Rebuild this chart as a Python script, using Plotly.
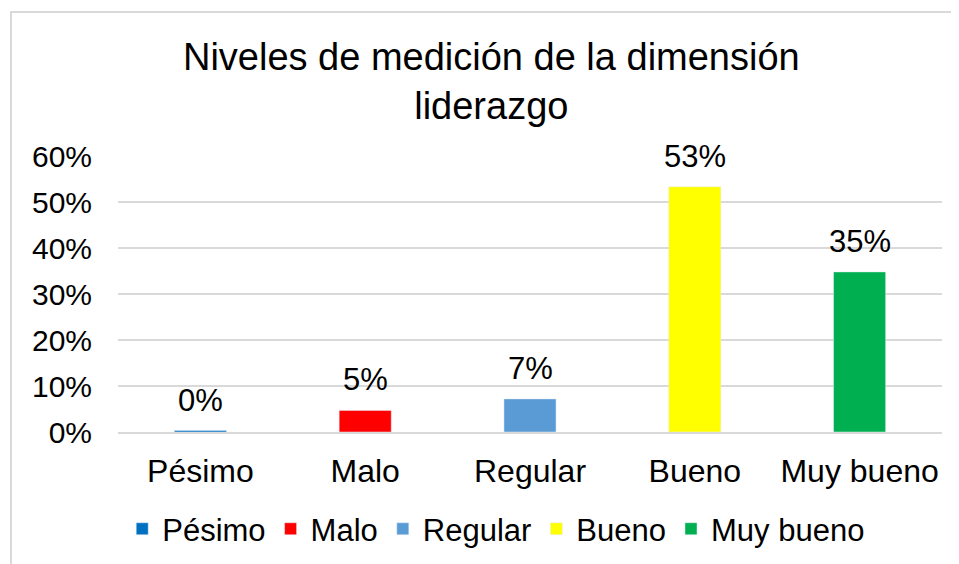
import plotly.graph_objects as go

categories = ["Pésimo", "Malo", "Regular", "Bueno", "Muy bueno"]
values = [0.003, 0.047, 0.072, 0.533, 0.348]
colors = ["#0070C0", "#FF0000", "#5B9BD5", "#FFFF00", "#00B050"]
tick_vals = [0, 0.1, 0.2, 0.3, 0.4, 0.5, 0.6]
tick_text = ["0%", "10%", "20%", "30%", "40%", "50%", "60%"]

FONT = "Liberation Sans, Arial, sans-serif"

fig = go.Figure()
for c, v, col in zip(categories, values, colors):
    fig.add_trace(go.Bar(x=[c], y=[v], name=c, marker_color=col, width=0.316))
    fig.add_annotation(x=c, y=v, xref="x", yref="y", text=f"{round(v*100):.0f}%",
                       showarrow=False, yanchor="bottom", yshift=11,
                       font=dict(size=31, color="black", family=FONT))

PW, PH = 824, 276
fig.update_layout(
    width=959, height=564,
    barmode="overlay",
    paper_bgcolor="white", plot_bgcolor="white",
    margin=dict(l=110, r=25, t=148, b=140, autoexpand=False),
    title=dict(text="Niveles de medición de la dimensión<br>liderazgo",
               x=0.504, xanchor="center", y=1 - 62 / 564, yanchor="top",
               font=dict(size=38, color="black", family=FONT)),
    font=dict(family=FONT, color="black"),
    showlegend=True,
    legend=dict(orientation="h", x=0.459, xanchor="center", y=-0.254, yanchor="top",
                font=dict(size=31, color="black", family=FONT),
                itemwidth=30, tracegroupgap=0),
    xaxis=dict(categoryorder="array", categoryarray=categories,
               tickfont=dict(size=32, color="black", family=FONT),
               showline=True, linecolor="#D9D9D9", linewidth=2, ticks="",
               ticklabelstandoff=10),
    yaxis=dict(range=[0, 0.6], tickvals=tick_vals, ticktext=tick_text,
               tickfont=dict(size=30, color="black", family=FONT),
               showgrid=True, gridcolor="#D9D9D9", gridwidth=1.5,
               zeroline=False, ticks="", ticklabelstandoff=25),
)
# chart-area border (only left and top edges visible in the reference)
fig.add_shape(type="rect", xref="paper", yref="paper",
              x0=-107 / PW, x1=1 + 60 / PW, y0=-1, y1=1 + 144 / PH,
              line=dict(color="#D9D9D9", width=2), fillcolor="rgba(0,0,0,0)", layer="below")

fig.write_html("out.html")
